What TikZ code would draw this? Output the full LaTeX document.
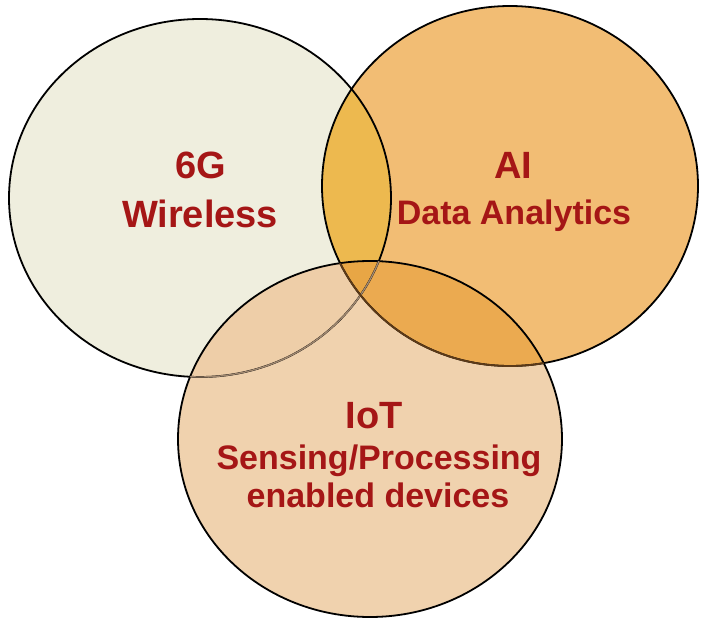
\documentclass[tikz,border=0pt]{standalone}
\usepackage{fontspec}
\setmainfont{Liberation Sans}
\definecolor{cOne}{HTML}{EFEEDE}
\definecolor{cTwo}{HTML}{F2BD74}
\definecolor{cThree}{HTML}{F0D2AE}
\definecolor{cOneTwo}{HTML}{EDB94F}
\definecolor{cTwoThree}{HTML}{EBAA50}
\definecolor{cOneThree}{HTML}{EECEA8}
\definecolor{cAll}{HTML}{E8A645}
\definecolor{txtred}{HTML}{A51616}
\definecolor{faintline}{HTML}{A08870}
\definecolor{darkline}{HTML}{5C3A18}
\tikzset{
  big/.style={text=txtred, anchor=base, inner sep=0pt, font=\bfseries\fontsize{38}{42}\selectfont},
  sub/.style={text=txtred, anchor=base, inner sep=0pt, font=\bfseries\fontsize{34}{38}\selectfont},
  rim/.style={line width=1.8pt}
}
\def\shpOne{(200,198) ellipse [x radius=191pt, y radius=179pt]}
\def\shpTwo{(510,186) ellipse [x radius=188pt, y radius=180pt]}
\def\shpThree{(370,439) ellipse [x radius=192pt, y radius=178pt]}
\begin{document}
\begin{tikzpicture}[x=1pt,y=-1pt]
\useasboundingbox (0,0) rectangle (702,618);
\fill[white] (0,0) rectangle (702,618);
% base fills
\fill[cOne] \shpOne;
\fill[cTwo] \shpTwo;
\fill[cThree] \shpThree;
% overlaps
\begin{scope}\clip \shpOne; \fill[cOneTwo] \shpTwo; \end{scope}
\begin{scope}\clip \shpTwo; \fill[cTwoThree] \shpThree; \end{scope}
\begin{scope}\clip \shpOne; \fill[cOneThree] \shpThree; \end{scope}
\begin{scope}\clip \shpOne; \clip \shpTwo; \fill[cAll] \shpThree; \end{scope}
% borders
\draw[rim, black] \shpOne;
\draw[rim, black] \shpTwo;
\draw[rim, black] \shpThree;
\begin{scope}\clip \shpThree;
  \draw[faintline, line width=1.4pt] \shpOne;
  \draw[rim, darkline] \shpTwo;
\end{scope}
% labels
\node[big] (g6) at (201,178) {6G};
\node[big] (wl) at (200,227) {Wireless};
\node[big] (ai) at (513,178) {AI};
\node[sub] (da) at (514,224) {Data Analytics};
\node[big] (iot) at (374,428) {IoT};
\node[sub] (sp) at (379,469) {Sensing/Processing};
\node[sub] (ed) at (378,507) {enabled devices};
\end{tikzpicture}
\end{document}
